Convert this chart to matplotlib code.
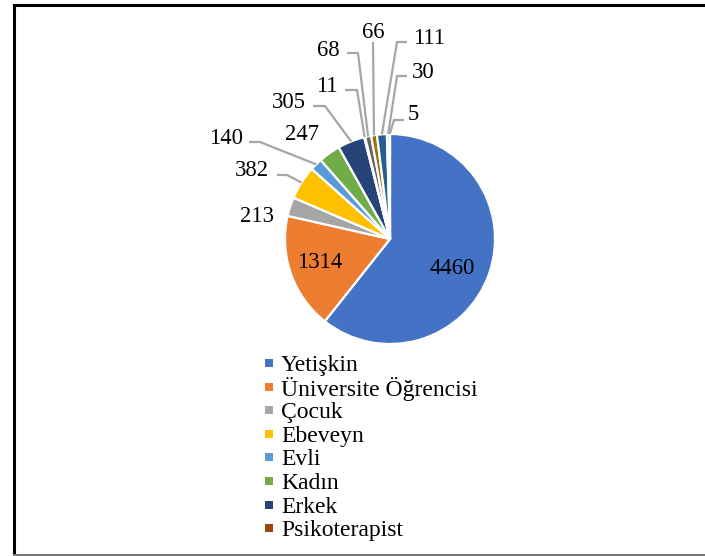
import matplotlib
matplotlib.use("Agg")
import matplotlib.pyplot as plt
from matplotlib.patches import Rectangle
from matplotlib.lines import Line2D
import numpy as np

plt.rcParams['font.family'] = ['Liberation Serif', 'DejaVu Serif']

# ---- data ----
values = [4460, 1314, 213, 382, 140, 247, 305, 11, 68, 66, 111, 30, 5]
legend_labels = ["Yetişkin", "Üniversite Öğrencisi", "Çocuk", "Ebeveyn",
                 "Evli", "Kadın", "Erkek", "Psikoterapist"]
colors = ["#4472C4", "#ED7D31", "#A5A5A5", "#FFC000", "#5B9BD5", "#70AD47",
          "#264478", "#9E480E", "#636363", "#997300", "#255E91", "#43682B",
          "#698ED0"]

# ---- layout (pixel units) ----
W, H = 705, 556
CX, CY, R = 390, 239, 105
label_pos = [(452, 268), (320, 262), (257, 216), (252, 170), (226, 138),
             (302, 135), (289, 102), (327, 87), (328, 50), (373, 32),
             (429, 38), (423, 73), (413, 115)]
leaders = [None, None, None,
           ('L', 277, 287, 175),
           ('L', 249, 260, 142),
           None,
           ('L', 313, 325, 106),
           ('L', 345, 357, 90),
           ('L', 347, 358, 53),
           ('V', 373, 42),
           ('L', 407, 397, 42),
           ('L', 407, 397, 76),
           ('L', 404, 394, 120)]

fig = plt.figure(figsize=(W / 100, H / 100), dpi=100)
ax = fig.add_axes([0, 0, 1, 1])


def fy(y):
    return H - y


wedges, _ = ax.pie(values, colors=colors, startangle=90, counterclock=False,
                   center=(CX, fy(CY)), radius=R,
                   wedgeprops=dict(edgecolor='white', linewidth=1.6))
ax.set_xlim(0, W)
ax.set_ylim(0, H)
ax.set_aspect('equal')
ax.axis('off')

leader_col = "#A6A6A6"
for i, (w, v) in enumerate(zip(wedges, values)):
    lx, ly = label_pos[i]
    ax.text(lx, fy(ly), str(v), fontsize=16.3, ha='center', va='center',
            color='black')
    ld = leaders[i]
    if ld is None:
        continue
    mid = np.deg2rad((w.theta1 + w.theta2) / 2)
    ex = CX + R * np.cos(mid)
    ey = fy(CY) + R * np.sin(mid)
    if ld[0] == 'L':
        xs = [ld[1], ld[2], ex]
        ys = [fy(ld[3]), fy(ld[3]), ey]
    else:
        xs = [ld[1], ex]
        ys = [fy(ld[2]), ey]
    ax.plot(xs, ys, color=leader_col, lw=1.6, solid_capstyle='butt', zorder=3)

# legend (first 8 categories)
for i, lab in enumerate(legend_labels):
    y = 363 + i * 23.6
    ax.add_patch(Rectangle((265, fy(y) - 4), 8, 8, facecolor=colors[i],
                           edgecolor='none'))
    ax.text(281, fy(y), lab, fontsize=17, ha='left', va='center_baseline',
            color='black')

# frame
fig.add_artist(Line2D([14 / W, 14 / W], [fy(5) / H, fy(555) / H],
                      color='black', lw=2.2))
fig.add_artist(Line2D([14 / W, 1], [fy(5) / H, fy(5) / H],
                      color='black', lw=2.2))
fig.add_artist(Line2D([14 / W, 1], [fy(555) / H, fy(555) / H],
                      color='#777777', lw=1.5))

fig.savefig("out.png", dpi=100, facecolor='white')
